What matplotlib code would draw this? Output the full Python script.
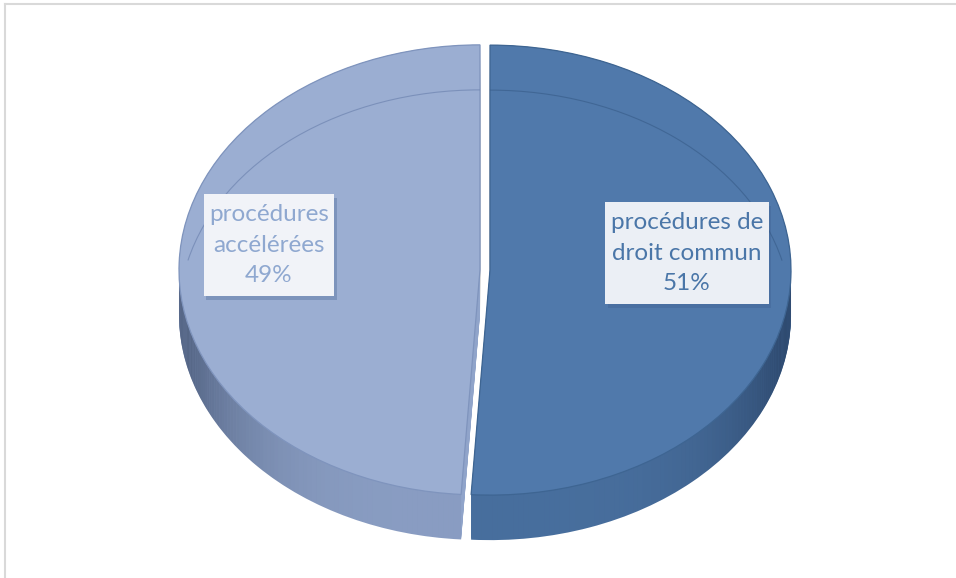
import matplotlib
matplotlib.use("Agg")
import matplotlib.pyplot as plt
import matplotlib.patheffects as pe
from matplotlib.patches import Arc
from matplotlib.collections import PolyCollection
from matplotlib.lines import Line2D
import numpy as np

# slices, clockwise from 12 o'clock
labels = ["procédures de\ndroit commun", "procédures\naccélérées"]
shares = [51, 49]
face_colors = ["#5079AB", "#9BAED2"]
side_colors = ["#4B73A3", "#90A4CA"]
edge_colors = ["#3E6592", "#7F94BD"]
rim_colors = ["#3A5F8C", "#6E84B0"]
text_colors = ["#4A76A8", "#8FA8D0"]
box_colors = ["#EBEFF5", "#F1F3F8"]
label_pos = [(687, 253), (269, 245)]   # pixel centres of the label boxes

W, H = 956, 578
fig = plt.figure(figsize=(W / 100, H / 100), dpi=100)
ax = fig.add_axes([0, 0, 1, 1])

R = 301.0            # horizontal semi-axis (px)
B = 225.0            # vertical semi-axis (px)
k = R / B            # data units per vertical pixel
depth = 45 * k       # thickness of the disc
cx = 485.0
cy = (H - 270) * k
gap = [5, 5]


def px(x, y):
    return x, (H - y) * k


# side of the disc: stacked layers from the bottom up
n_layers = 46
for i in range(n_layers):
    off = depth * (1 - i / (n_layers - 1))
    ax.pie(shares, colors=side_colors, startangle=90, counterclock=False,
           explode=gap, radius=R, center=(cx, cy - off),
           wedgeprops=dict(linewidth=0), frame=False)

# shading on the visible curved side
wedges, _ = ax.pie(shares, colors=face_colors, startangle=90, counterclock=False,
                   explode=gap, radius=R, center=(cx, cy),
                   wedgeprops=dict(linewidth=0.9), frame=False)
quads, shade = [], []
for w in wedges:
    wx, wy = w.center
    t0, t1 = w.theta1, w.theta2
    for a in np.arange(t0, t1, 1.0):
        a0, a1 = np.radians(a), np.radians(min(a + 1.0, t1))
        if np.sin((a0 + a1) / 2) >= 0:
            continue
        p0 = (wx + R * np.cos(a0), wy + R * np.sin(a0))
        p1 = (wx + R * np.cos(a1), wy + R * np.sin(a1))
        quads.append([p0, p1, (p1[0], p1[1] - depth), (p0[0], p0[1] - depth)])
        c = abs(np.cos((a0 + a1) / 2))
        shade.append((0.05, 0.1, 0.2, 0.05 + 0.45 * c ** 4))
ax.add_collection(PolyCollection(quads, facecolors=shade, edgecolors="none",
                                 zorder=1.5))

for w, ec, rc in zip(wedges, edge_colors, rim_colors):
    w.set_edgecolor(ec)
    w.set_zorder(2)
    # faint back rim showing through the top
    wx, wy = w.center
    t0, t1 = w.theta1, w.theta2
    while t0 < -180:
        t0 += 360
        t1 += 360
    t0 = max(t0, 14)
    t1 = min(t1, 166)
    if t1 > t0:
        arc = Arc((wx, wy - depth), 2 * R, 2 * R, theta1=t0, theta2=t1,
                  color=rc, lw=0.8, alpha=0.7, zorder=2.5)
        ax.add_patch(arc)

for lab, share, pos, tc, bc in zip(labels, shares, label_pos, text_colors, box_colors):
    x, y = px(*pos)
    t = ax.text(x, y, f"{lab}\n{share}%", ha="center", va="center",
                fontsize=17.5, family="Lato", color=tc, linespacing=1.55,
                zorder=5,
                bbox=dict(boxstyle="square,pad=0.22", mutation_aspect=1.9,
                          fc=bc, ec="none"))
    t.get_bbox_patch().set_path_effects([
        pe.SimplePatchShadow(offset=(2, -3), shadow_rgbFace="#3A5A8A", alpha=0.3),
        pe.Normal()])

ax.set_aspect("auto")
ax.set_xlim(0, W)
ax.set_ylim(0, H * k)
ax.axis("off")

# chart frame
fig.add_artist(Line2D([5 / W, 1], [1 - 4 / H, 1 - 4 / H], transform=fig.transFigure,
                      color="#D9D9D9", lw=1.5))
fig.add_artist(Line2D([5 / W, 5 / W], [0, 1 - 4 / H], transform=fig.transFigure,
                      color="#D9D9D9", lw=1.5))

fig.savefig("out.png", dpi=100, facecolor="white")
